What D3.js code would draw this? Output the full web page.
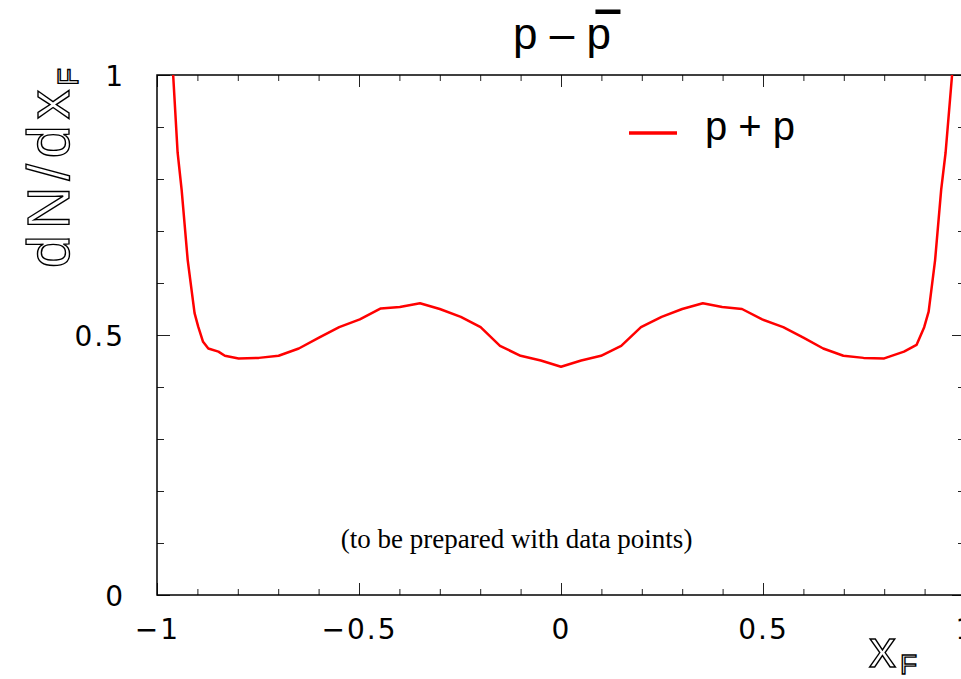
<!DOCTYPE html>
<html>
<head>
<meta charset="utf-8">
<script src="https://cdn.jsdelivr.net/npm/d3@7"></script>
<style>
  body { margin: 0; background: #fff; }
  svg { display: block; }
</style>
</head>
<body>
<div id="chart"></div>
<script>
// curve
const xf = [-0.960, -0.949, -0.939, -0.924, -0.907, -0.898, -0.886, -0.873, -0.848, -0.832, -0.798,
            -0.748, -0.699, -0.649, -0.599, -0.549, -0.498, -0.446, -0.399, -0.349, -0.300,
            -0.248, -0.199, -0.151, -0.100, -0.050, 0.000,
            0.050, 0.099, 0.149, 0.198, 0.249, 0.300, 0.351, 0.399, 0.448, 0.498,
            0.550, 0.600, 0.649, 0.699, 0.749, 0.800, 0.849, 0.880, 0.899, 0.910,
            0.926, 0.941, 0.952, 0.968];
const dndx = [1.000, 0.851, 0.779, 0.644, 0.542, 0.516, 0.487, 0.474, 0.468, 0.460, 0.455,
              0.456, 0.460, 0.474, 0.495, 0.515, 0.530, 0.551, 0.554, 0.561, 0.550,
              0.535, 0.515, 0.479, 0.460, 0.451, 0.439,
              0.451, 0.460, 0.479, 0.515, 0.535, 0.550, 0.561, 0.554, 0.550, 0.530,
              0.515, 0.495, 0.474, 0.460, 0.456, 0.455, 0.468, 0.481, 0.515, 0.545,
              0.644, 0.779, 0.851, 1.000];

const xMajor = [-1, -0.5, 0, 0.5, 1];
const xMinor = d3.range(-10, 11).map(d => d / 10);
const yMajor = [0, 0.5, 1];
const yMinor = d3.range(0, 11).map(d => d / 10);

const titleText = "p \u2013 p";
const legendLabel = "p + p";
const note = "(to be prepared with data points)";

const W = 961, H = 679;
const margin = { top: 75, right: -4, bottom: 84, left: 157 };
const width = W - margin.left - margin.right;
const height = H - margin.top - margin.bottom;

const svg = d3.select("#chart").append("svg")
    .attr("width", W)
    .attr("height", H);

const g = svg.append("g")
    .attr("transform", `translate(${margin.left},${margin.top})`);

const x = d3.scaleLinear().domain([-1, 1]).range([0, width]);
const y = d3.scaleLinear().domain([0, 1]).range([height, 0]);

const tickFont = "'DejaVu Sans', sans-serif";

// axes: ticks point inwards on all four sides
function ticks(axis, values, size, labels) {
    return axis.tickValues(values).tickSize(size).tickPadding(0)
        .tickFormat(labels ? d3.format("") : "");
}

const axes = [
    { a: d3.axisBottom(x), v: xMinor, s: -6, t: `translate(0,${height})` },
    { a: d3.axisBottom(x), v: xMajor, s: -12, t: `translate(0,${height})`, lab: "x" },
    { a: d3.axisTop(x), v: xMinor, s: -6, t: "translate(0,0)" },
    { a: d3.axisTop(x), v: xMajor, s: -12, t: "translate(0,0)" },
    { a: d3.axisLeft(y), v: yMinor, s: -7, t: "translate(0,0)" },
    { a: d3.axisLeft(y), v: yMajor, s: -13, t: "translate(0,0)", lab: "y" },
    { a: d3.axisRight(y), v: yMinor, s: -7, t: `translate(${width},0)` },
    { a: d3.axisRight(y), v: yMajor, s: -13, t: `translate(${width},0)` }
];

axes.forEach(ax => {
    const sel = g.append("g")
        .attr("transform", ax.t)
        .call(ticks(ax.a, ax.v, ax.s, ax.lab));
    sel.select(".domain").remove();
    sel.selectAll(".tick line").attr("stroke", "#222").attr("stroke-width", 1);
    const txt = sel.selectAll(".tick text")
        .style("font-family", tickFont)
        .style("font-size", "28px")
        .style("letter-spacing", "2px")
        .attr("fill", "#000");
    // tick labels sit off the frame
    if (ax.lab === "x") txt.attr("y", 24).attr("dy", "0.71em");
    if (ax.lab === "y") txt.attr("x", -32).attr("dy", "0.36em").attr("text-anchor", "end");
});

// frame
g.append("rect")
    .attr("width", width)
    .attr("height", height)
    .attr("fill", "none")
    .attr("stroke", "#000")
    .attr("stroke-width", 1.5);

// clip for the curve
svg.append("clipPath").attr("id", "plot")
    .append("rect").attr("width", width).attr("height", height);

const line = d3.line()
    .x((d, i) => x(xf[i]))
    .y(d => y(d));

g.append("path")
    .datum(dndx)
    .attr("clip-path", "url(#plot)")
    .attr("fill", "none")
    .attr("stroke", "#ff0000")
    .attr("stroke-width", 2.5)
    .attr("stroke-linejoin", "round")
    .attr("d", line);

// title with bar over the second p
const title = svg.append("text")
    .attr("x", 562)
    .attr("y", 49)
    .attr("text-anchor", "middle")
    .style("font-family", "'Liberation Sans', Arial, sans-serif")
    .style("font-size", "44px")
    .text(titleText);
const lastStart = title.node().getStartPositionOfChar(titleText.length - 1).x;
svg.append("rect")
    .attr("x", lastStart + 9)
    .attr("y", 9.5)
    .attr("width", 25)
    .attr("height", 4.5)
    .attr("fill", "#000");

// legend
const legend = svg.append("g").attr("transform", "translate(629,133)");
legend.append("line")
    .attr("x1", 0).attr("x2", 48)
    .attr("stroke", "#ff0000")
    .attr("stroke-width", 3.5);
legend.append("text")
    .attr("x", 76)
    .attr("y", 7)
    .style("font-family", "'Liberation Sans', Arial, sans-serif")
    .style("font-size", "40px")
    .text(legendLabel);

// note inside the plot
g.append("text")
    .attr("x", x(-0.11))
    .attr("y", y(0.09))
    .attr("text-anchor", "middle")
    .style("font-family", "'Liberation Serif', 'Times New Roman', serif")
    .style("font-size", "27px")
    .text(note);

// axis titles, outlined letters
const outline = sel => sel
    .attr("fill", "none")
    .attr("stroke", "#000")
    .attr("stroke-width", 1.4)
    .style("font-family", "'Liberation Sans', Arial, sans-serif");

const xt = svg.append("text").attr("x", 869).attr("y", 667).call(outline)
    .style("font-size", "54px");
xt.append("tspan").text("x");
xt.append("tspan").attr("dx", 4).attr("dy", 7).style("font-size", "28px").text("F");

const yt = svg.append("text")
    .attr("transform", "translate(69,268) rotate(-90)")
    .call(outline)
    .style("font-size", "59px")
    .style("letter-spacing", "6px");
yt.append("tspan").text("dN/dx");
yt.append("tspan").attr("dx", -2).attr("dy", 9).style("font-size", "29px").style("letter-spacing", "0px").text("F");
</script>
</body>
</html>
